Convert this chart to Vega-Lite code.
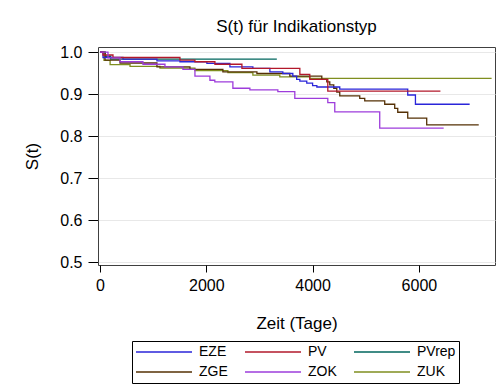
{
  "$schema": "https://vega.github.io/schema/vega-lite/v6.json",
  "autosize": "none",
  "width": 397,
  "height": 218,
  "padding": {"left": 98, "top": 47, "right": 8, "bottom": 127},
  "background": "white",
  "title": {"text": "S(t) für Indikationstyp", "fontSize": 17, "fontWeight": "normal", "font": "Liberation Sans", "color": "black", "offset": 8},
  "data": {"values": [
    {"g": "PVrep", "t": 0, "s": 1.0}, {"g": "PVrep", "t": 100, "s": 0.99}, {"g": "PVrep", "t": 200, "s": 0.983}, {"g": "PVrep", "t": 3327, "s": 0.983},
    {"g": "ZUK", "t": 0, "s": 1.0}, {"g": "ZUK", "t": 75, "s": 0.98}, {"g": "ZUK", "t": 190, "s": 0.97}, {"g": "ZUK", "t": 565, "s": 0.966}, {"g": "ZUK", "t": 1128, "s": 0.962}, {"g": "ZUK", "t": 1786, "s": 0.956}, {"g": "ZUK", "t": 2406, "s": 0.951}, {"g": "ZUK", "t": 2876, "s": 0.945}, {"g": "ZUK", "t": 3383, "s": 0.941}, {"g": "ZUK", "t": 3947, "s": 0.9375}, {"g": "ZUK", "t": 7368, "s": 0.9375},
    {"g": "ZGE", "t": 0, "s": 1.0}, {"g": "ZGE", "t": 94, "s": 0.981}, {"g": "ZGE", "t": 376, "s": 0.974}, {"g": "ZGE", "t": 1071, "s": 0.965}, {"g": "ZGE", "t": 1692, "s": 0.959}, {"g": "ZGE", "t": 2312, "s": 0.953}, {"g": "ZGE", "t": 2952, "s": 0.949}, {"g": "ZGE", "t": 3571, "s": 0.943}, {"g": "ZGE", "t": 4173, "s": 0.935}, {"g": "ZGE", "t": 4267, "s": 0.929}, {"g": "ZGE", "t": 4323, "s": 0.922}, {"g": "ZGE", "t": 4398, "s": 0.914}, {"g": "ZGE", "t": 4455, "s": 0.905}, {"g": "ZGE", "t": 4511, "s": 0.896}, {"g": "ZGE", "t": 4887, "s": 0.89}, {"g": "ZGE", "t": 4981, "s": 0.884}, {"g": "ZGE", "t": 5357, "s": 0.876}, {"g": "ZGE", "t": 5545, "s": 0.866}, {"g": "ZGE", "t": 5602, "s": 0.857}, {"g": "ZGE", "t": 5790, "s": 0.843}, {"g": "ZGE", "t": 6147, "s": 0.827}, {"g": "ZGE", "t": 7126, "s": 0.827},
    {"g": "EZE", "t": 0, "s": 1.0}, {"g": "EZE", "t": 56, "s": 0.987}, {"g": "EZE", "t": 432, "s": 0.983}, {"g": "EZE", "t": 1071, "s": 0.979}, {"g": "EZE", "t": 1504, "s": 0.977}, {"g": "EZE", "t": 2011, "s": 0.973}, {"g": "EZE", "t": 2444, "s": 0.965}, {"g": "EZE", "t": 2876, "s": 0.961}, {"g": "EZE", "t": 3196, "s": 0.953}, {"g": "EZE", "t": 3440, "s": 0.949}, {"g": "EZE", "t": 3628, "s": 0.943}, {"g": "EZE", "t": 3700, "s": 0.935}, {"g": "EZE", "t": 3760, "s": 0.931}, {"g": "EZE", "t": 3890, "s": 0.926}, {"g": "EZE", "t": 4000, "s": 0.92}, {"g": "EZE", "t": 4080, "s": 0.917}, {"g": "EZE", "t": 4511, "s": 0.912}, {"g": "EZE", "t": 5790, "s": 0.898}, {"g": "EZE", "t": 5935, "s": 0.876}, {"g": "EZE", "t": 6955, "s": 0.876},
    {"g": "PV", "t": 0, "s": 1.0}, {"g": "PV", "t": 56, "s": 0.993}, {"g": "PV", "t": 244, "s": 0.987}, {"g": "PV", "t": 1504, "s": 0.981}, {"g": "PV", "t": 1786, "s": 0.977}, {"g": "PV", "t": 2162, "s": 0.971}, {"g": "PV", "t": 2670, "s": 0.961}, {"g": "PV", "t": 3760, "s": 0.947}, {"g": "PV", "t": 3947, "s": 0.935}, {"g": "PV", "t": 4286, "s": 0.907}, {"g": "PV", "t": 6405, "s": 0.907},
    {"g": "ZOK", "t": 0, "s": 1.0}, {"g": "ZOK", "t": 150, "s": 0.986}, {"g": "ZOK", "t": 376, "s": 0.977}, {"g": "ZOK", "t": 808, "s": 0.971}, {"g": "ZOK", "t": 1222, "s": 0.965}, {"g": "ZOK", "t": 1560, "s": 0.959}, {"g": "ZOK", "t": 1786, "s": 0.943}, {"g": "ZOK", "t": 2068, "s": 0.933}, {"g": "ZOK", "t": 2160, "s": 0.929}, {"g": "ZOK", "t": 2500, "s": 0.914}, {"g": "ZOK", "t": 2820, "s": 0.91}, {"g": "ZOK", "t": 3346, "s": 0.906}, {"g": "ZOK", "t": 3665, "s": 0.89}, {"g": "ZOK", "t": 4286, "s": 0.88}, {"g": "ZOK", "t": 4417, "s": 0.858}, {"g": "ZOK", "t": 5263, "s": 0.819}, {"g": "ZOK", "t": 6466, "s": 0.819}
  ]},
  "mark": {"type": "line", "interpolate": "step-after", "strokeWidth": 1.3},
  "encoding": {
    "x": {"field": "t", "type": "quantitative",
      "scale": {"domain": [-38, 7432], "nice": false, "zero": false},
      "axis": {"values": [0, 2000, 4000, 6000], "format": "d", "title": "Zeit (Tage)", "grid": false, "domain": false,
        "tickSize": 7, "tickColor": "black", "labelPadding": 5, "labelFontSize": 16, "labelColor": "black",
        "titleFontSize": 17, "titleFontWeight": "normal", "titleColor": "black", "titlePadding": 22, "labelFlush": false}},
    "y": {"field": "s", "type": "quantitative",
      "scale": {"domain": [0.494, 1.012], "nice": false, "zero": false},
      "axis": {"values": [0.5, 0.6, 0.7, 0.8, 0.9, 1.0], "format": ".1f", "title": "S(t)", "grid": true, "gridColor": "#e8e8e8", "domain": false,
        "tickSize": 10, "tickColor": "black", "labelPadding": 6, "labelFontSize": 16, "labelColor": "black",
        "titleFontSize": 17, "titleFontWeight": "normal", "titleColor": "black", "titlePadding": 18, "labelFlush": false}},
    "color": {"field": "g", "type": "nominal",
      "scale": {"domain": ["EZE", "PV", "PVrep", "ZGE", "ZOK", "ZUK"], "range": ["#2A25D9", "#B2182B", "#01665E", "#543005", "#9D3CDB", "#7F8E1F"]},
      "legend": {"orient": "none", "legendX": 34, "legendY": 294, "direction": "horizontal", "columns": 3, "gridAlign": "all",
        "title": null, "columnPadding": 6, "rowPadding": 4, "padding": 3, "strokeColor": "black",
        "symbolType": "stroke", "symbolSize": 3136, "symbolStrokeWidth": 1.5, "clipHeight": 16,
        "labelFontSize": 14, "labelOffset": 6, "labelColor": "black"}}
  },
  "config": {"view": {"stroke": "#404040", "strokeWidth": 1}, "font": "Liberation Sans"}
}
